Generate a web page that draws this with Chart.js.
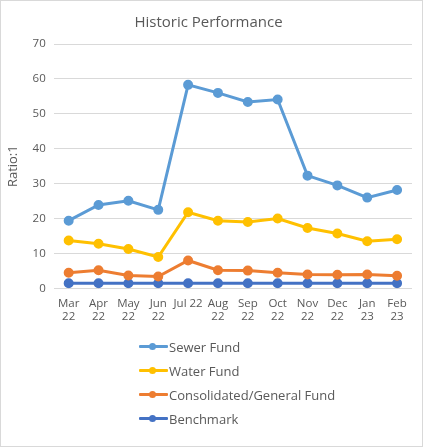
<!DOCTYPE html>
<html>
<head>
<meta charset="utf-8">
<script src="https://cdn.jsdelivr.net/npm/chart.js@4"></script>
<style>
  html, body { margin: 0; padding: 0; background: #fff; }
  #frame { position: absolute; left: 0; top: 0; width: 421px; height: 445px; border: 1px solid #d9d9d9; background: #fff; }
  #wrap { position: absolute; left: 0; top: 0; width: 421px; height: 335px; }
  #legend { position: absolute; left: 138px; top: 334px; margin: 0; padding: 0; list-style: none;
            font-family: "Open Sans", sans-serif; font-size: 13px; color: #595959; }
  #legend li { height: 24px; line-height: 24px; display: flex; align-items: center; }
  #legend .swatch { position: relative; width: 29px; height: 24px; margin-right: 1px; }
  #legend .swatch .ln { position: absolute; left: 0; right: 0; top: 10px; height: 3px; border-radius: 1px; }
  #legend .swatch .dt { position: absolute; left: 10px; top: 8px; width: 7px; height: 7px; border-radius: 50%; }
</style>
</head>
<body>
<div id="frame">
  <div id="wrap"><canvas id="lineChart"></canvas></div>
  <ul id="legend"></ul>
</div>
<script>
var months = [["Mar","22"],["Apr","22"],["May","22"],["Jun","22"],"Jul 22",["Aug","22"],
              ["Sep","22"],["Oct","22"],["Nov","22"],["Dec","22"],["Jan","23"],["Feb","23"]];
var seriesNames = ["Sewer Fund", "Water Fund", "Consolidated/General Fund", "Benchmark"];
var sewerFund = [19.4, 23.9, 25.1, 22.5, 58.3, 56.0, 53.4, 54.1, 32.3, 29.5, 26.0, 28.2];
var waterFund = [13.7, 12.8, 11.3, 9.0, 21.8, 19.4, 19.0, 20.0, 17.3, 15.7, 13.5, 14.1];
var generalFund = [4.5, 5.2, 3.7, 3.4, 8.0, 5.2, 5.1, 4.5, 4.0, 3.9, 4.0, 3.6];
var benchmark = [1.5, 1.5, 1.5, 1.5, 1.5, 1.5, 1.5, 1.5, 1.5, 1.5, 1.5, 1.5];
var yTicks = [0, 10, 20, 30, 40, 50, 60, 70];

var colors = ["#5B9BD5", "#FFC000", "#ED7D31", "#4472C4"];
var values = [sewerFund, waterFund, generalFund, benchmark];

var datasets = [];
for (var a = 0; a < values.length; a++) {
    datasets.push({
        label: seriesNames[a],
        data: values[a],
        borderColor: colors[a],
        backgroundColor: colors[a],
        borderWidth: 3,
        pointRadius: 3.5,
        pointHoverRadius: 3.5,
        tension: 0
    });
}

var ctx = document.getElementById('lineChart').getContext('2d');
var chart = new Chart(ctx, {
    type: 'line',
    data: { labels: months, datasets: datasets },
    options: {
        responsive: true,
        maintainAspectRatio: false,
        animation: false,
        layout: { padding: { left: 4, right: 10, top: 13, bottom: 12 } },
        plugins: {
            legend: { display: false },
            tooltip: { enabled: false },
            title: {
                display: true,
                text: 'Historic Performance',
                color: '#595959',
                font: { family: 'Open Sans', size: 15, weight: 'normal' },
                padding: { top: 0, bottom: 12 }
            }
        },
        scales: {
            x: {
                offset: true,
                grid: { display: false },
                border: { display: false },
                ticks: {
                    color: '#595959',
                    font: { family: 'Open Sans', size: 11.5 },
                    maxRotation: 0,
                    autoSkip: false,
                    padding: 0
                }
            },
            y: {
                min: 0,
                max: 70,
                afterBuildTicks: function(axis) {
                    axis.ticks = yTicks.map(function(v) { return { value: v }; });
                },
                grid: { color: '#d9d9d9', lineWidth: 1, drawTicks: false },
                border: { display: false },
                ticks: {
                    color: '#595959',
                    font: { family: 'Open Sans', size: 11.5 },
                    padding: 8
                },
                title: {
                    display: true,
                    text: 'Ratio:1',
                    color: '#595959',
                    font: { family: 'Open Sans', size: 13 },
                    padding: { top: 0, bottom: 4 }
                }
            }
        }
    }
});

// vertical legend below the plot, built from the chart's datasets
var legend = document.getElementById('legend');
chart.data.datasets.forEach(function(ds) {
    var li = document.createElement('li');
    var sw = document.createElement('span');
    sw.className = 'swatch';
    var ln = document.createElement('span');
    ln.className = 'ln';
    ln.style.background = ds.borderColor;
    var dt = document.createElement('span');
    dt.className = 'dt';
    dt.style.background = ds.backgroundColor;
    sw.appendChild(ln);
    sw.appendChild(dt);
    li.appendChild(sw);
    li.appendChild(document.createTextNode(ds.label));
    legend.appendChild(li);
});
</script>
</body>
</html>
